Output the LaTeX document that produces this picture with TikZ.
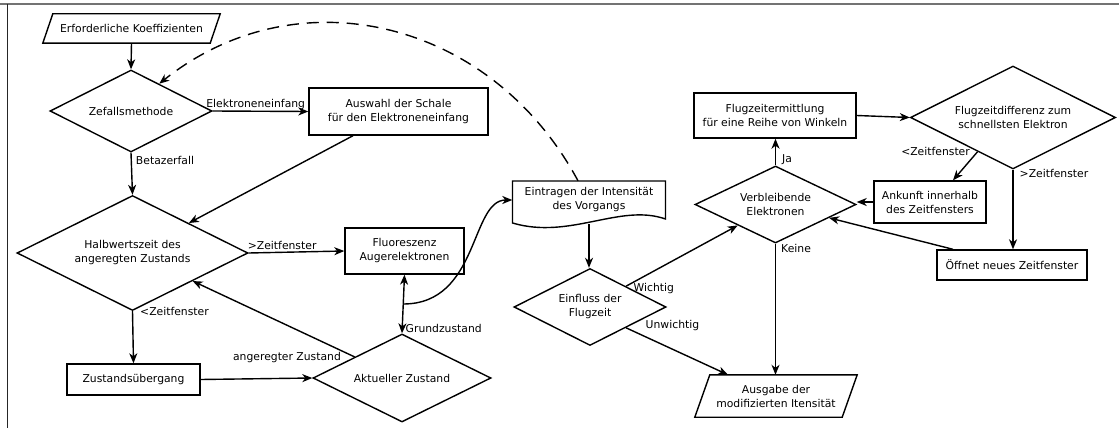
\documentclass[tikz,border=0pt]{standalone}
\usepackage{fontspec}
\setmainfont{DejaVu Sans}
\usetikzlibrary{shapes.geometric,arrows.meta,calc}
\begin{document}
\begin{tikzpicture}[x=1pt,y=-1pt,
  every node/.style={font=\fontsize{10.8}{14}\selectfont, align=center},
  box/.style={draw, line width=1.4pt, rectangle, inner sep=0pt},
  dia/.style={draw, line width=1.4pt, diamond, aspect=2, inner sep=0pt},
  plain/.style={rectangle, inner sep=0pt},
  outl/.style={line width=1.4pt, line join=miter},
  tip/.style={},
  arr/.style={line width=1.4pt, -{Stealth[length=10pt,width=8pt,inset=3pt]}},
  darr/.style={line width=1.4pt, {Stealth[length=10pt,width=8pt,inset=3pt]}-{Stealth[length=10pt,width=8pt,inset=3pt]}},
  dasharr/.style={line width=1.4pt, dash pattern=on 12pt off 8pt, -{Stealth[length=10pt,width=8pt,inset=3pt]}},
  lbl/.style={inner sep=1pt},
]
\useasboundingbox (0,0) rectangle (1119,428);
\fill[white] (0,0) rectangle (1119,428);
\draw[line width=2pt, black!55] (0,4) -- (1119,4);
\draw[line width=1pt, black!85] (7,4) -- (7,428);

% nodes
\node[plain, minimum width=167pt, minimum height=29pt] (erf) at (131.5,28.5) {Erforderliche Koeffizienten};
\draw[outl] ([xshift=5pt]erf.north west) -- ([xshift=5pt]erf.north east) -- ([xshift=-5pt]erf.south east) -- ([xshift=-5pt]erf.south west) -- cycle;

\node[dia, minimum width=162pt, minimum height=82pt] (zef) at (131,111) {Zefallsmethode};
\node[box, minimum width=179pt, minimum height=47pt] (ausw) at (398.5,111.5) {Auswahl der Schale\\für den Elektroneneinfang};
\node[dia, minimum width=231pt, minimum height=115pt] (halb) at (132.5,253) {Halbwertszeit des\\angeregten Zustands};
\node[box, minimum width=119pt, minimum height=46pt] (fluo) at (404.5,251) {Fluoreszenz\\Augerelektronen};
\node[box, minimum width=133pt, minimum height=31pt] (zust) at (133.5,379.5) {Zustandsübergang};
\node[dia, minimum width=178pt, minimum height=88pt] (akt) at (402,378) {Aktueller Zustand};

\node[plain, minimum width=153pt, minimum height=38pt] (ein) at (589,200) {Eintragen der Intensität\\des Vorgangs};
\draw[outl] (512.5,223) -- (512.5,181) -- (665.5,181) -- (665.5,219) .. controls (620,203) and (570,240) .. (512.5,223) -- cycle;

\node[dia, minimum width=152pt, minimum height=77pt] (einf) at (590,307) {Einfluss der\\Flugzeit};
\node[dia, minimum width=161pt, minimum height=77pt] (verb) at (775.5,204.5) {Verbleibende\\Elektronen};

\node[plain, minimum width=147pt, minimum height=42pt] (ausg) at (776,396) {Ausgabe der\\modifizierten Itensität};
\draw[outl] ([xshift=7.5pt]ausg.north west) -- ([xshift=7.5pt]ausg.north east) -- ([xshift=-7.5pt]ausg.south east) -- ([xshift=-7.5pt]ausg.south west) -- cycle;

\node[box, minimum width=162pt, minimum height=45pt] (flug) at (775,115.5) {Flugzeitermittlung\\für eine Reihe von Winkeln};
\node[dia, minimum width=205pt, minimum height=103pt] (fdiff) at (1013,117.5) {Flugzeitdifferenz zum\\schnellsten Elektron};
\node[box, minimum width=112pt, minimum height=42pt] (ank) at (930,202) {Ankunft innerhalb\\des Zeitfensters};
\node[box, minimum width=150pt, minimum height=30pt] (off) at (1012,265) {Öffnet neues Zeitfenster};

\coordinate (jn) at ($(fluo.south)!0.5!(akt.north)$);

% connectors
\draw[arr] (erf.south) -- (zef.north);
\draw[arr] (zef.east) -- node[lbl, above, pos=0.45] {Elektroneneinfang} (ausw.west);
\draw[arr] (zef.south) -- node[lbl, anchor=west, pos=0.19, xshift=3pt] {Betazerfall} (halb.north);
\draw[arr] ([xshift=-45.5pt]ausw.south) -- (halb);
\draw[arr] (halb.east) -- node[lbl, above, pos=0.35, yshift=1pt] {>Zeitfenster} (fluo.west);
\draw[arr] (halb.south) -- node[lbl, anchor=west, pos=0, xshift=6pt, yshift=0pt] {<Zeitfenster} (zust.north);
\draw[arr] (zust.east) -- (akt.west);
\draw[arr] (akt.156) -- node[lbl, anchor=east, pos=0, xshift=-12pt, yshift=-1pt] {angeregter Zustand} (halb.-25.6);
\draw[darr] (fluo.south) -- node[lbl, anchor=west, pos=1, xshift=2pt, yshift=5pt] {Grundzustand} (akt.north);
\draw[arr] (jn) .. controls +(76,0) and +(-42,0) .. (ein.west);
\draw[dasharr] ([xshift=-11pt]ein.north) .. controls +(-87,-162) and +(138,-110) .. (zef.44);
\draw[arr] (ein.south |- 0,224) -- (ein.south |- einf.north);
\draw[arr] (einf.30) -- node[lbl, anchor=west, pos=0, xshift=6pt, yshift=-2pt] {Wichtig} (verb.209);
\draw[arr] (einf.-30) -- node[lbl, anchor=west, pos=0, xshift=18pt, yshift=2pt] {Unwichtig} ([xshift=-48pt]ausg.north);
\draw[arr] (verb.south) -- node[lbl, anchor=west, pos=0, xshift=4pt, yshift=-4.5pt] {Keine} (verb.south |- ausg.north);
\draw[arr] (verb.north) -- node[lbl, anchor=west, pos=0, xshift=5pt, yshift=6pt] {Ja} (verb.north |- flug.south);
\draw[arr] (flug.east) -- (fdiff.west);
\draw[arr] (fdiff.224.6) -- node[lbl, anchor=east, pos=0, xshift=-6pt] {<Zeitfenster} ([xshift=23pt]ank.north);
\draw[arr] (ank.west) -- (ank.west -| verb.east);
\draw[arr] (fdiff.south) -- node[lbl, anchor=west, pos=0, xshift=5pt, yshift=-4pt] {>Zeitfenster} (fdiff.south |- off.north);
\draw[arr] ([xshift=-59pt]off.north) -- (verb.-14);
\end{tikzpicture}
\end{document}
